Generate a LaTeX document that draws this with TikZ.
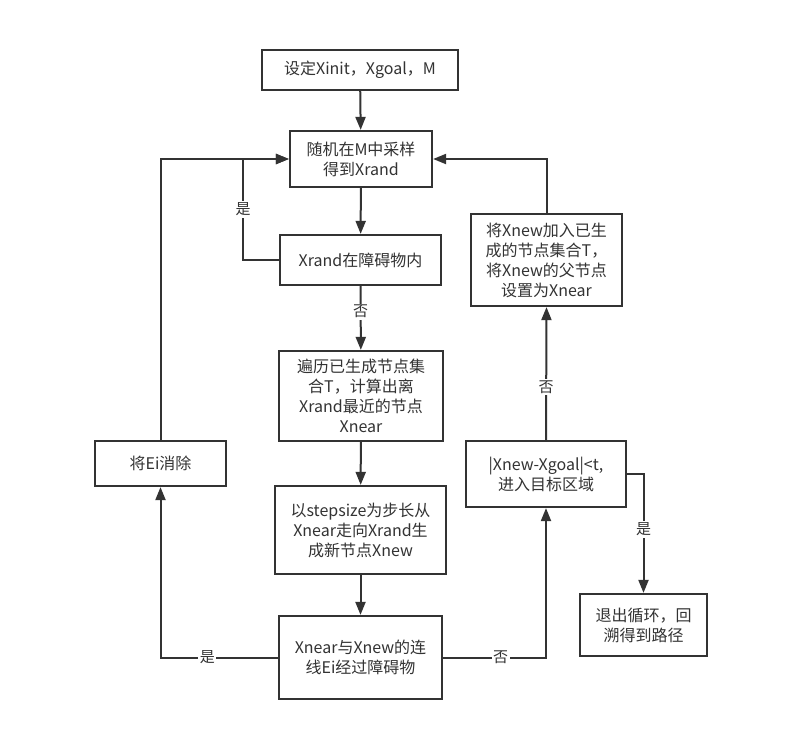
\documentclass[tikz,border=0pt]{standalone}
\usepackage{fontspec}
\setmainfont{Noto Sans CJK SC}
\usetikzlibrary{arrows.meta}
\definecolor{ln}{HTML}{333333}
\definecolor{tx}{HTML}{333333}
\begin{document}
\begin{tikzpicture}[x=1pt,y=-1pt,
  box/.style={draw=ln,line width=2.2pt,fill=white,align=center,text=tx,inner sep=2pt,
    font=\fontsize{16}{20}\selectfont},
  conn/.style={draw=ln,line width=2pt,-{Triangle[length=13pt,width=10pt]}},
  lbl/.style={fill=white,text=tx,inner sep=1.5pt,font=\fontsize{15}{17}\selectfont}]
\useasboundingbox (0,0) rectangle (806,747);
\fill[white] (0,0) rectangle (806,747);
\node[box,minimum width=196pt,minimum height=40pt] (A) at (360,70) {设定Xinit，Xgoal，M};
\node[box,minimum width=142pt,minimum height=56pt] (B) at (361,159) {随机在M中采样\\得到Xrand};
\node[box,minimum width=161pt,minimum height=50pt] (C) at (360.5,260) {Xrand在障碍物内};
\node[box,minimum width=164pt,minimum height=90pt] (D) at (361,396) {遍历已生成节点集\\合T，计算出离\\Xrand最近的节点\\Xnear};
\node[box,minimum width=171pt,minimum height=88pt] (E) at (360.5,530) {以stepsize为步长从\\Xnear走向Xrand生\\成新节点Xnew};
\node[box,minimum width=163pt,minimum height=83pt] (F) at (360.5,657.5) {Xnear与Xnew的连\\线Ei经过障碍物};
\node[box,minimum width=131pt,minimum height=45pt] (G) at (160.5,463.5) {将Ei消除};
\node[box,minimum width=151pt,minimum height=92pt] (H) at (546.5,260) {将Xnew加入已生\\成的节点集合T，\\将Xnew的父节点\\设置为Xnear};
\node[box,minimum width=160pt,minimum height=66pt] (I) at (546,474) {|Xnew-Xgoal|<t,\\进入目标区域};
\node[box,minimum width=127pt,minimum height=62pt] (J) at (643.5,625) {退出循环，回\\溯得到路径};
\coordinate (cl) at (243,260);
\draw[conn] (A) -- (B);
\draw[conn] (B) -- (C);
\draw[conn] (C) -- node[lbl,pos=0.4]{否} (D);
\draw[conn] (D) -- (E);
\draw[conn] (E) -- (F);
\draw[conn] (C.west) -- (cl) -- node[lbl]{是} (cl |- B.west) -- (B.west);
\draw[conn] (F.west) -| node[lbl,pos=0.3]{是} (G.south);
\draw[conn] (G.north) |- (B.west);
\draw[conn] (F.east) -| node[lbl,pos=0.28]{否} (I.south);
\draw[conn] (I.north) -- node[lbl,pos=0.4]{否} (H.south);
\draw[conn] (H.north) |- (B.east);
\draw[conn] (I.east) -| node[lbl,pos=0.733]{是} (J.north);
\end{tikzpicture}
\end{document}
